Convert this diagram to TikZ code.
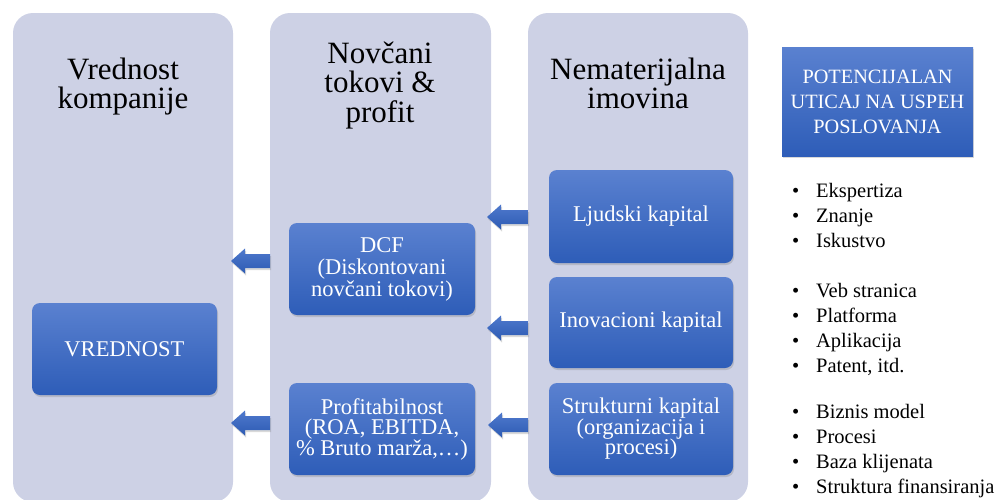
\documentclass[tikz,border=0pt]{standalone}
\usepackage{fontspec}
\setmainfont{Liberation Serif}
\usetikzlibrary{shadows,calc}

\definecolor{panelbg}{HTML}{CDD1E5}
\definecolor{boxtop}{HTML}{5A81D0}
\definecolor{boxbot}{HTML}{2E5DB8}
\definecolor{arrtop}{HTML}{4F79CC}
\definecolor{arrbot}{HTML}{2D5BB4}

\tikzset{
  panel/.style={fill=panelbg, rounded corners=20pt, inner sep=0pt,
    minimum width=220pt, minimum height=489pt},
  paneltitle/.style={inner sep=0pt, align=center, anchor=base,
    font=\fontsize{31}{28.5}\selectfont},
  softshadow/.style={drop shadow={shadow xshift=1pt, shadow yshift=-2pt, opacity=.3}},
  bluebox/.style={rounded corners=8pt, top color=boxtop, bottom color=boxbot,
    softshadow, text=white, align=center, inner sep=0pt,
    font=\fontsize{22.5}{22}\selectfont},
  headbox/.style={bluebox, rounded corners=0pt, font=\fontsize{20.3}{25}\selectfont},
  bulletlist/.style={inner sep=0pt, align=left, anchor=base west,
    font=\fontsize{20.5}{25}\selectfont},
  blockarrow/.style={top color=arrtop, bottom color=arrbot, softshadow},
}

% left-pointing block arrow from a tail coordinate to a tip coordinate
\newcommand\blockarrowleft[2]{%
  \path[blockarrow] ($(#1)+(0,-7)$) -- ($(#2)+(14,-7)$) -- ($(#2)+(14,-12.5)$)
    -- (#2) -- ($(#2)+(14,12.5)$) -- ($(#2)+(14,7)$) -- ($(#1)+(0,7)$) -- cycle;}

\newcommand\bl{\makebox[24pt][l]{•}}

\begin{document}
\begin{tikzpicture}[x=1pt, y=-1pt]
  \useasboundingbox (0,0) rectangle (998,499);

  % three columns
  \node[panel] (p1) at (123,257.5) {};
  \node[panel, minimum width=221pt] (p2) at (380.5,257.5) {};
  \node[panel] (p3) at (638,257.5) {};

  % column titles (placed by the baseline of their last line)
  \node[paneltitle] (t1) at (123,108) {Vrednost\\kompanije};
  \node[paneltitle, font=\fontsize{31}{29.5}\selectfont] (t2) at (380,122) {Novčani\\tokovi \&\\profit};
  \node[paneltitle] (t3) at (638,108) {Nematerijalna\\imovina};

  % value column
  \node[bluebox, minimum width=185pt, minimum height=92pt] (vred) at (124.5,349) {VREDNOST};

  % cash flow column
  \node[bluebox, minimum width=186pt, minimum height=92pt] (dcf) at (382,269)
    {DCF\\(Diskontovani\\novčani tokovi)};
  \node[bluebox, minimum width=186pt, minimum height=92pt, font=\fontsize{22.5}{20.5}\selectfont] (prof) at (382,429)
    {Profitabilnost\\(ROA, EBITDA,\\\% Bruto marža,…)};

  % intangible assets column
  \node[bluebox, minimum width=184pt, minimum height=93pt] (ljud) at (641,216.5) {Ljudski kapital};
  \node[bluebox, minimum width=184pt, minimum height=91pt] (inov) at (641,322.5) {Inovacioni kapital};
  \node[bluebox, minimum width=184pt, minimum height=92pt, font=\fontsize{22.5}{20.5}\selectfont] (strk) at (641,429)
    {Strukturni kapital\\(organizacija i\\procesi)};

  % impact header and lists
  \node[headbox, minimum width=191pt, minimum height=109pt] (pot) at (877.5,101.5)
    {POTENCIJALAN\\UTICAJ NA USPEH\\POSLOVANJA};

  \node[bulletlist] (l1) at (792,247) {\bl Ekspertiza\\\bl Znanje\\\bl Iskustvo};
  \node[bulletlist] (l2) at (792,372) {\bl Veb stranica\\\bl Platforma\\\bl Aplikacija\\\bl Patent, itd.};
  \node[bulletlist] (l3) at (792,493) {\bl Biznis model\\\bl Procesi\\\bl Baza klijenata\\\bl Struktura finansiranja};

  % arrows between columns
  \coordinate (a1s) at (270,261); \coordinate (a1e) at (231,261);
  \coordinate (a2s) at (270,423); \coordinate (a2e) at (231,423);
  \coordinate (a3s) at (528,217); \coordinate (a3e) at (487,217);
  \coordinate (a4s) at (528,328); \coordinate (a4e) at (487,328);
  \coordinate (a5s) at (528,425); \coordinate (a5e) at (488,425);
  \blockarrowleft{a1s}{a1e}
  \blockarrowleft{a2s}{a2e}
  \blockarrowleft{a3s}{a3e}
  \blockarrowleft{a4s}{a4e}
  \blockarrowleft{a5s}{a5e}
\end{tikzpicture}
\end{document}
